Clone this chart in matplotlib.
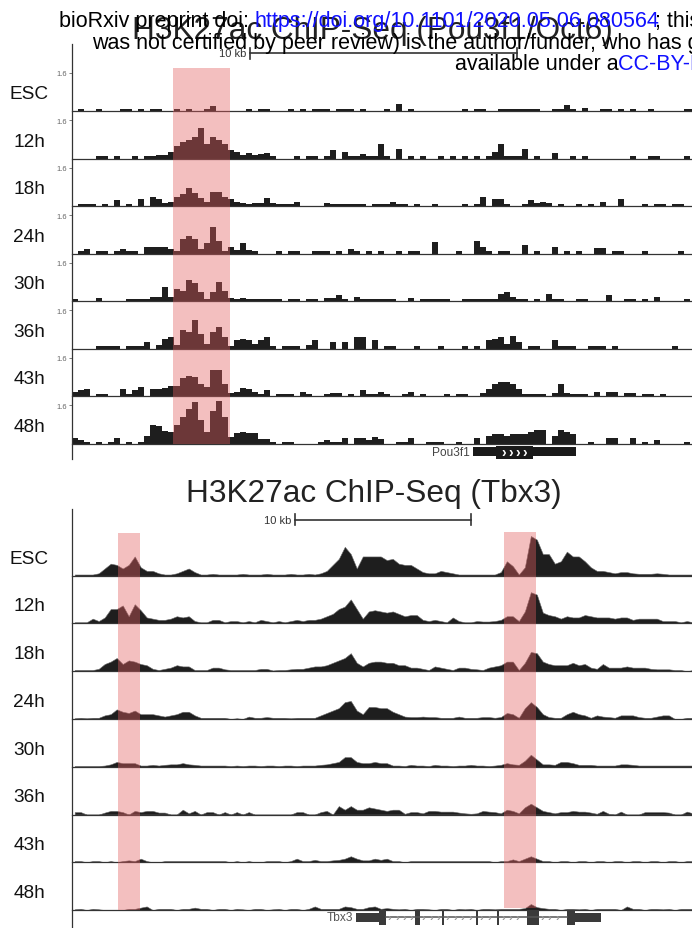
import numpy as np
import matplotlib
matplotlib.use("Agg")
import matplotlib.pyplot as plt
from matplotlib.patches import Rectangle
from matplotlib.lines import Line2D
import matplotlib.transforms as mtransforms

plt.rcParams['font.family'] = ['Liberation Sans', 'DejaVu Sans']

# ---------------- data ----------------
time_labels = ['ESC', '12h', '18h', '24h', '30h', '36h', '43h', '48h']

# H3K27ac signal, Pou3f1/Oct6 locus (bins of ~0.224 kb)
top_esc = [0, .1, 0, 0, .1, 0, 0, 0, .1, .1, 0, .1, 0,
           .1, .1, 0, 0, .1, 0, .1, 0, 0, .1, .2, 0, 0,
           0, 0, 0, .1, 0, .1, .1, 0, 0, 0, .1, 0, .1,
           0, .1, .1, .1, 0, .1, .1, .1, 0, .1, 0, 0, 0,
           .1, 0, .3, 0, .1, 0, 0, 0, 0, 0, 0, 0, 0,
           .1, 0, .1, .1, 0, 0, .1, .1, .1, .1, .1, .1, .1,
           0, 0, .1, .1, .25, .1, 0, .15, 0, 0, .1, .1, 0,
           .1, 0, .1, 0, 0, .1, 0, 0, 0, 0, 0, .1, .1]
top_12h = [0, 0, 0, 0, .1, .1, 0, .1, 0, 0, .1, 0, .1,
           .1, .15, .15, .3, .55, .7, .8, .9, 1.3, .6, .9, .8, .6,
           .35, .3, .15, .25, .15, .2, .25, .1, 0, 0, 0, .1, 0,
           .1, .1, 0, .1, .35, 0, .3, .1, .1, .2, .1, .1, .6,
           .1, 0, .4, 0, .1, 0, .1, 0, 0, .1, 0, .1, 0,
           .1, 0, .1, 0, .1, .3, .6, .1, .1, .1, .4, 0, .1,
           0, 0, .25, 0, 0, .1, 0, .1, 0, 0, 0, 0, 0,
           0, 0, .1, 0, 0, .1, .1, 0, 0, 0, 0, .1, 0]
top_18h = [0, .1, .1, .1, 0, .1, 0, .25, 0, .1, 0, .3, 0,
           .4, .3, .15, .2, .4, .5, .75, .55, .35, .2, .6, .6, .4,
           .3, .2, .15, .1, .15, .15, .35, .15, .1, .1, .1, .2, 0,
           0, 0, 0, .15, .1, .1, .1, .1, .1, .1, 0, .1, .1,
           .1, .2, .1, .1, 0, .1, 0, 0, .1, 0, 0, 0, 0,
           .1, 0, .1, .4, 0, .3, .3, .1, 0, 0, .1, .25, .15,
           .2, .15, 0, .1, 0, 0, .1, 0, .1, 0, .2, 0, 0,
           .3, 0, 0, 0, .1, 0, .1, .1, 0, .1, .1, 0, 0]
top_24h = [0, .1, .2, 0, .1, .1, 0, .1, .2, .1, .1, 0, .3,
           .3, .3, .3, .2, .1, .6, .75, .6, .2, .45, 1.1, .55, .1,
           .3, .15, .45, .15, .1, 0, 0, 0, .1, 0, .1, .1, 0,
           0, .1, .1, .1, 0, .1, 0, .2, .1, 0, .1, 0, .1,
           0, 0, .1, 0, .1, .1, 0, 0, .5, 0, 0, 0, .1,
           0, 0, .55, .3, .1, 0, .1, .1, 0, 0, .35, 0, .1,
           0, 0, .3, 0, .1, 0, .1, 0, 0, .25, .25, 0, .1,
           .1, 0, 0, 0, .1, 0, 0, 0, 0, 0, .1, 0, 0]
top_30h = [.1, 0, 0, 0, .15, 0, 0, 0, 0, .1, .1, .1, .1,
           .2, .2, .6, .2, .5, .45, .9, .75, .4, .1, .4, .8, .45,
           .15, .1, .15, .1, .1, .1, .1, .1, .1, 0, .1, .1, 0,
           .1, .1, 0, .15, .15, .25, .1, 0, .2, .1, .1, .1, .1,
           .1, .1, 0, 0, .15, 0, .1, .1, .1, .1, .1, 0, 0,
           .1, .1, .1, .1, .1, .1, .3, .4, .2, .1, .1, 0, .1,
           0, .3, .1, .1, 0, 0, .1, .1, 0, 0, 0, .25, 0,
           0, .1, .1, 0, .1, 0, .2, 0, 0, 0, 0, .1, 0]
top_36h = [0, 0, 0, 0, .1, .1, .1, .1, 0, .1, .1, .1, .3,
           0, .15, .4, .5, .15, .8, .7, 1.2, .6, .2, .7, .9, .5,
           .1, .35, .4, .35, .2, .35, .5, .1, 0, .1, .1, .1, 0,
           .15, .35, 0, 0, .3, 0, .3, 0, .5, .5, 0, .35, 0,
           .1, .1, 0, 0, 0, .1, 0, 0, 0, .1, 0, 0, 0,
           .1, 0, .1, 0, .35, .4, .5, .2, .55, .3, 0, .1, .1,
           0, 0, .35, .1, .1, .1, 0, 0, .1, .1, .1, 0, .1,
           0, 0, 0, 0, 0, 0, 0, 0, 0, .1, 0, 0, 0]
top_43h = [.2, .25, .3, 0, .1, .1, 0, 0, .3, .1, .25, .4, 0,
           .3, .3, .35, .45, .45, .75, .85, .8, .5, .4, 1.1, 1.1, .5,
           .15, .2, .35, .3, .2, .1, .25, 0, .1, .1, .1, 0, .2,
           .1, 0, 0, .1, .15, .15, 0, .1, 0, .25, .1, .1, .2,
           .1, 0, 0, .1, .2, 0, .1, 0, 0, 0, .1, 0, .1,
           .1, 0, 0, .15, .3, .5, .6, .6, .5, .3, .1, .1, .1,
           .1, 0, .15, .5, .15, .1, .1, .1, 0, .2, 0, .2, .2,
           0, .15, .15, 0, .1, .1, 0, .1, 0, 0, 0, 0, 0]
top_48h = [.25, .15, .1, 0, .1, 0, .1, .25, 0, .1, 0, .1, .35,
           .8, .75, .55, .5, .8, 1.1, 1.45, 1.75, 1.0, .5, 1.35, 1.8, 1.1,
           .3, .45, .5, .45, .45, .2, .2, .1, 0, .1, .1, 0, 0,
           0, 0, .1, .15, .1, .1, .25, 0, .25, .25, .15, .3, .2,
           0, 0, .1, .1, .25, 0, 0, .1, .1, .1, 0, 0, .1,
           0, 0, .25, 0, .35, .4, .4, .35, .4, .4, .4, .5, .6,
           .6, 0, .35, .6, .5, .4, 0, 0, .1, 0, 0, .25, .25,
           0, 0, .25, 0, .1, 0, .15, 0, 0, 0, 0, .1, 0]

# H3K27ac signal, Tbx3 locus (bins of ~0.34 kb)
bot_esc = [.05, .05, .05, .05, .1, .3, .5, .45, .3, .45, .8, .35, .2,
           .2, .1, .05, .05, .1, .2, .3, .15, .05, .05, .08, .05, .05,
           .05, .05, .08, .05, .05, .05, .08, .05, .05, .05, .08, .05, .05,
           .08, .05, .1, .2, .45, .7, 1.2, .9, .3, .8, .8, .8, .8,
           .65, .7, .5, .45, .45, .3, .15, .1, .1, .2, .15, .1, .05,
           .05, .05, .05, .05, .05, .05, .15, .6, .4, .05, .35, 1.65, 1.5,
           .9, .9, .5, .6, 1.0, .8, .8, .6, .35, .2, .2, .15, .1,
           .15, .15, .1, .08, .08, .08, .1, .08, .05, .05, .05, .05, .05]
bot_12h = [.05, .05, .05, .2, .1, .25, .6, .6, .75, .3, .8, .55, .25,
           .2, .15, .15, .2, .3, .25, .3, .1, .05, .05, .15, .15, .05,
           .1, .1, .05, .1, .05, .15, .1, .05, .1, .05, .1, .15, .1,
           .15, .15, .2, .3, .4, .6, .7, 1.0, .6, .2, .5, .55, .5,
           .45, .5, .4, .3, .35, .35, .15, .1, .15, .1, .05, .25, .1,
           .05, .05, .1, .08, .08, .1, .15, .3, .3, .1, .5, 1.3, 1.2,
           .45, .35, .3, .2, .3, .25, .25, .35, .3, .25, .25, .25, .2,
           .25, .25, .15, .2, .2, .2, .2, .1, .1, .1, .05, .1, .05]
bot_18h = [.05, .05, .05, .05, .1, .3, .4, .55, .3, .45, .4, .3, .25,
           .1, .05, .1, .15, .25, .2, .2, .05, .05, .05, .15, .15, .08,
           .05, .05, .05, .05, .05, .1, .1, .03, .05, .05, .08, .1, .1,
           .15, .2, .2, .25, .35, .45, .55, .75, .35, .2, .35, .4, .4,
           .35, .35, .25, .25, .15, .15, .1, .05, .2, .15, .1, .05, .15,
           .15, .1, .08, .05, .15, .2, .25, .4, .4, .05, .35, .8, .75,
           .4, .3, .25, .25, .25, .35, .25, .3, .15, .1, .3, .15, .15,
           .15, .2, .15, .15, .15, .1, .08, .08, .08, .05, .05, 0, .05]
bot_24h = [.03, .05, .03, .05, .05, .15, .2, .4, .3, .25, .35, .2, .2,
           .2, .15, .1, .15, .2, .3, .3, .15, .05, .05, .05, .05, .05,
           0, .03, 0, .1, .05, .05, .08, .05, .05, .05, .03, .05, .05,
           .05, .05, .15, .25, .35, .45, .7, .75, .35, .2, .5, .5, .45,
           .45, .3, .2, .1, .08, .08, .1, .08, .08, .05, .05, .05, .1,
           .05, .05, .05, .08, .08, .05, .08, .25, .2, .05, .45, .7, .5,
           .2, .08, .05, .05, .2, .3, .2, .15, .05, .15, .1, .08, .05,
           .15, .15, .15, .08, .05, .05, .1, .15, .15, 0, 0, .05, .05]
bot_30h = [.03, .03, .03, .03, .03, .05, .1, .2, .15, .15, .15, .05, .05,
           .08, .05, .08, .1, .1, .15, .1, .08, .05, .05, .05, .05, .05,
           .03, .05, .03, .05, .05, .03, .05, .05, .03, .05, .05, .03, .05,
           .05, .05, .08, .1, .15, .2, .4, .4, .2, .15, .15, .2, .15,
           .15, .05, .05, .03, .08, .05, .05, .03, .08, .05, .05, .03, .05,
           .05, .08, .05, .05, .03, .05, .08, .15, .1, .08, .25, .5, .3,
           .1, .1, .08, .2, .2, .15, .08, .08, .08, .05, .05, .05, .05,
           .1, .1, .08, .05, .05, .05, .05, .05, .05, .05, .05, .05, .05]
bot_36h = [.1, .1, 0, 0, 0, .08, .15, .15, .1, 0, .15, .1, .15,
           .15, .08, .08, 0, 0, .2, .05, .15, 0, .1, .1, 0, .1,
           0, .1, 0, .1, 0, 0, 0, 0, 0, 0, 0, .1, .1,
           0, 0, .1, .15, 0, .35, .2, .35, .2, .2, .3, .25, .2,
           .15, .2, .2, .03, .1, .1, .05, .15, .15, .12, .12, .12, .08,
           .05, .03, .05, .15, .12, .1, .05, .2, .15, .05, .3, .45, .3,
           .15, .1, .05, .1, .1, .15, .12, .12, .08, .03, .15, .03, 0,
           .12, 0, 0, 0, .1, .1, .1, .1, .08, 0, 0, .12, .05]
bot_43h = [.05, .05, 0, .05, .05, 0, .05, 0, .05, .08, .05, .15, .05,
           0, 0, .05, .05, .05, .05, .05, .05, .05, .05, .05, .05, .05,
           0, .05, 0, .05, 0, 0, .05, .05, .05, 0, .05, .15, .05,
           .05, .1, .05, .05, .08, .1, .15, .25, .15, .08, .08, .15, .1,
           .15, .05, .05, 0, .05, .05, .05, .05, .05, .05, .05, .05, .05,
           .05, .05, .05, .05, .05, 0, .05, .05, .12, .05, .15, .25, .15,
           .05, .05, 0, .05, .05, 0, .05, .05, 0, .05, .05, 0, .05,
           .05, 0, .05, .05, 0, .05, .05, 0, .05, .05, 0, .05, .05]
bot_48h = [.03, .05, 0, .05, .03, 0, 0, 0, 0, .05, .05, .1, .15,
           0, .05, .05, .05, 0, .05, .05, .1, .05, .05, 0, .05, .05,
           0, .05, .03, 0, .05, .05, 0, .03, .05, 0, .05, .05, 0,
           .05, .15, .05, .05, .05, .05, .15, .12, .05, .05, .12, .15, .05,
           .08, .05, .03, .05, 0, .05, .05, .03, 0, .05, .05, 0, .05,
           .03, .05, 0, .05, .05, .03, .05, .05, .05, .05, .08, .25, .12,
           .08, .05, .05, 0, .05, .05, .03, .05, 0, .05, .05, .05, .05,
           0, .15, .05, .05, 0, .05, .05, .03, .05, 0, .05, .05, .05]

top_tracks = [top_esc, top_12h, top_18h, top_24h, top_30h, top_36h, top_43h, top_48h]
bot_tracks = [bot_esc, bot_12h, bot_18h, bot_24h, bot_30h, bot_36h, bot_43h, bot_48h]

TOP_BIN_KB = 0.2244
BOT_BIN_KB = 0.34
TOP_SPAN_KB = 23.2
BOT_SPAN_KB = 35.14

top_highlights = [(3.79, 5.92)]
bot_highlights = [(2.62, 3.87), (24.49, 26.29)]

pou3f1_gene = (15.01, 18.86)
pou3f1_cds = (15.87, 17.25)
tbx3_utrs = [(16.11, 17.43), (28.51, 29.99)]
tbx3_exons = [(17.43, 17.81), (19.45, 19.73), (20.98, 21.11), (22.92, 23.02),
              (24.11, 24.23), (25.81, 26.46), (28.06, 28.51)]

top_scalebar = (6.65, 16.65)
bot_scalebar = (12.64, 22.64)
ytick_value = 1.6

# ---------------- layout ----------------
W, H = 692, 929
fig = plt.figure(figsize=(W / 100, H / 100), dpi=100)
fig.patch.set_facecolor('white')

def fx(px):
    return px / W

def fy(py):
    return 1 - py / H

X0, X1 = 71.7, 692
PX_UNIT = 1.6 / 38.5        # signal units per pixel
SIG = '#1e1e1e'
HL = '#e35f61'
AXC = '#333333'


def draw_panel(tracks, bin_kb, span, base0, step, show_ticks, style):
    axes = []
    for k, vals in enumerate(tracks):
        base = base0 + step * k
        ax = fig.add_axes([fx(X0), fy(base), fx(X1) - fx(X0), step / H])
        ax.patch.set_alpha(0)
        v = np.asarray(vals, dtype=float)
        x = np.arange(len(v)) * bin_kb
        if style == 'bars':
            ax.bar(x, v, width=bin_kb, align='edge', color=SIG, linewidth=0)
        else:
            xc = x + 0.5 * bin_kb
            ax.fill_between(xc, 0, v, color=SIG, linewidth=0.4, edgecolor='#6a6a6a')
        ax.set_xlim(0, span)
        ax.set_ylim(0, step * PX_UNIT)
        for s in ('top', 'right', 'left'):
            ax.spines[s].set_visible(False)
        ax.spines['bottom'].set_color(AXC)
        ax.spines['bottom'].set_linewidth(0.9)
        ax.spines['bottom'].set_zorder(4)
        ax.set_xticks([])
        if show_ticks:
            ax.set_yticks([ytick_value])
            ax.set_yticklabels(['1.6'])
            ax.tick_params(axis='y', length=2.5, width=0.6, colors='#666666',
                           labelsize=5.5, pad=1)
        else:
            ax.set_yticks([])
        fig.text(fx(29), fy(base - 17.5), time_labels[k], ha='center',
                 va='center', fontsize=13.7, color='#111111')
        axes.append(ax)
    return axes


top_axes = draw_panel(top_tracks, TOP_BIN_KB, TOP_SPAN_KB, 112.3, 47.52, True, 'bars')
bot_axes = draw_panel(bot_tracks, BOT_BIN_KB, BOT_SPAN_KB, 576.7, 47.76, False, 'fill')

# vertical axis lines
fig.add_artist(Line2D([fx(X0), fx(X0)], [fy(45), fy(460)], color=AXC, lw=0.9))
fig.add_artist(Line2D([fx(X0), fx(X0)], [fy(510), fy(929)], color=AXC, lw=0.9))

# highlight regions
def add_highlights(ax_ref, spans, ytop, ybot):
    tr = mtransforms.blended_transform_factory(ax_ref.transData, fig.transFigure)
    for (a, b) in spans:
        fig.add_artist(Rectangle((a, fy(ybot)), b - a, fy(ytop) - fy(ybot),
                                 transform=tr, facecolor=HL, alpha=0.4,
                                 linewidth=0, zorder=3))

add_highlights(top_axes[0], top_highlights, 69, 445)
add_highlights(bot_axes[0], bot_highlights[:1], 534, 911)
add_highlights(bot_axes[0], bot_highlights[1:], 532.5, 908.5)

# scale bars
def add_scalebar(ax_ref, span, ypx):
    tr = mtransforms.blended_transform_factory(ax_ref.transData, fig.transFigure)
    a, b = span
    fig.add_artist(Line2D([a, b], [fy(ypx), fy(ypx)], transform=tr, color=AXC, lw=1.2))
    for v in (a, b):
        fig.add_artist(Line2D([v, v], [fy(ypx - 5.5), fy(ypx + 5.5)], transform=tr,
                              color=AXC, lw=1.2))
    off = mtransforms.offset_copy(tr, fig=fig, x=-3, y=0, units='dots')
    fig.text(a, fy(ypx), '10 kb', transform=off, ha='right', va='center',
             fontsize=8, color=AXC)

add_scalebar(top_axes[0], top_scalebar, 54.3)
add_scalebar(bot_axes[0], bot_scalebar, 520.7)

# gene tracks
gA = fig.add_axes([fx(X0), fy(462), fx(X1) - fx(X0), 17 / H])
gA.set_xlim(0, TOP_SPAN_KB)
gA.set_ylim(462, 445)
gA.axis('off')
g0, g1 = pou3f1_gene
c0, c1 = pou3f1_cds
gA.add_patch(Rectangle((g0, 448.3), g1 - g0, 8.4, facecolor='#1a1a1a', lw=0))
gA.add_patch(Rectangle((c0, 446.7), c1 - c0, 13.3, facecolor='#1a1a1a', lw=0))
for xc in np.linspace(c0 + 0.27, c1 - 0.3, 4):
    gA.text(xc, 453, '\u203a', color='white', fontsize=10, fontweight='bold',
            ha='center', va='center')
offA = mtransforms.offset_copy(gA.transData, fig=fig, x=-3, y=0, units='dots')
gA.text(g0, 452.7, 'Pou3f1', transform=offA, ha='right', va='center',
        fontsize=8.6, color='#444444')

gB = fig.add_axes([fx(X0), fy(929), fx(X1) - fx(X0), 18 / H])
gB.set_xlim(0, BOT_SPAN_KB)
gB.set_ylim(929, 911)
gB.axis('off')
GC = '#3a3a3a'
intron_a, intron_b = tbx3_exons[0][1], tbx3_exons[-1][0]
gB.plot([intron_a, intron_b], [918.3, 918.3], color='#555555', lw=1.1)
for i in range(len(tbx3_exons) - 1):
    ia, ib = tbx3_exons[i][1], tbx3_exons[i + 1][0]
    for xc in np.arange(ia + 0.2, ib - 0.15, 0.42):
        gB.text(xc, 918.3, '\u203a', color='#9a9a9a', fontsize=8,
                fontweight='bold', ha='center', va='center')
for (a, b) in tbx3_utrs:
    gB.add_patch(Rectangle((a, 914), b - a, 8.7, facecolor=GC, lw=0))
for (a, b) in tbx3_exons:
    gB.add_patch(Rectangle((a, 910.7), b - a, 15, facecolor=GC, lw=0))
offB = mtransforms.offset_copy(gB.transData, fig=fig, x=-3, y=0, units='dots')
gB.text(tbx3_utrs[0][0], 918.3, 'Tbx3', transform=offB, ha='right', va='center',
        fontsize=8.6, color='#555555')

# titles
fig.text(fx(372.5), fy(39), 'H3K27ac ChIP-Seq (Pou3f1/Oct6)', ha='center',
         va='baseline', fontsize=22.7, color='#222222')
fig.text(fx(373.5), fy(502), 'H3K27ac ChIP-Seq (Tbx3)', ha='center',
         va='baseline', fontsize=22.7, color='#222222')

# preprint header overlay
BL = '#1010ff'
fs = 15.5
fig.text(fx(59), fy(27.3), 'bioRxiv preprint doi: ', va='baseline', fontsize=fs, color='black', zorder=6)
fig.text(fx(255), fy(27.3), 'https://doi.org/10.1101/2020.05.06.080564', va='baseline',
         fontsize=fs, color=BL, zorder=6)
fig.text(fx(655), fy(27.3), '; this version posted May 7, 2020.', va='baseline',
         fontsize=fs, color='black', zorder=6)
fig.text(fx(92), fy(48.5), 'was not certified by peer review) is the author/funder, who has granted bioRxiv a license',
         va='baseline', fontsize=fs, color='black', zorder=6)
fig.text(fx(455), fy(69.7), 'available under a', va='baseline', fontsize=fs, color='black', zorder=6)
fig.text(fx(618), fy(69.7), 'CC-BY-NC-ND 4.0 International license', va='baseline',
         fontsize=fs, color=BL, zorder=6)

fig.savefig('out.png', dpi=100)
